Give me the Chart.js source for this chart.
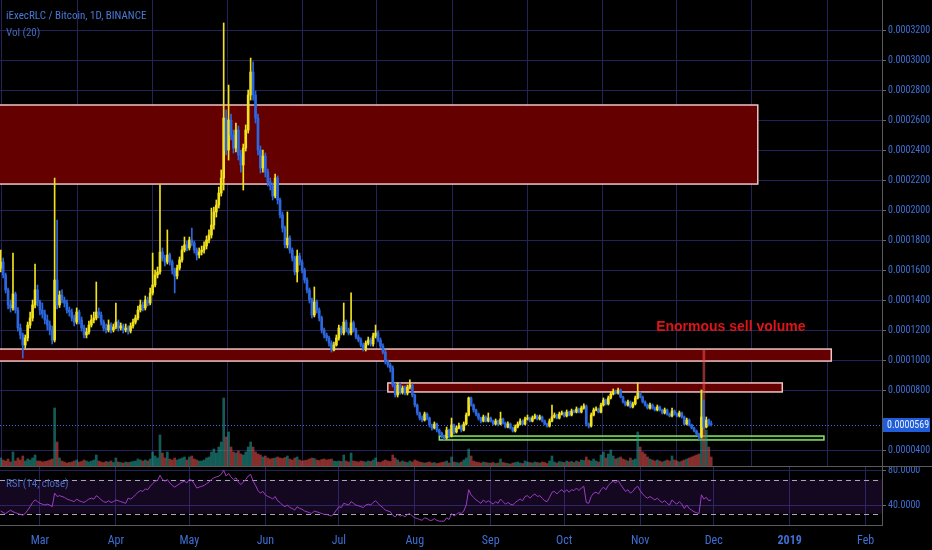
<!DOCTYPE html>
<html>
<head>
<meta charset="utf-8">
<script src="https://cdn.jsdelivr.net/npm/chart.js@4.4.0/dist/chart.umd.min.js"></script>
<style>
  html, body { margin: 0; padding: 0; background: #000; }
  #wrap { position: relative; width: 932px; height: 550px; overflow: hidden; background: #000; }
  #mainChart { position: absolute; left: 0; top: 0; }
  #rsiChart { position: absolute; left: 0; top: 467px; }
</style>
</head>
<body>
<div id="wrap">
  <canvas id="mainChart" width="932" height="467"></canvas>
  <canvas id="rsiChart" width="932" height="83"></canvas>
</div>
<script>
// daily candles, prices in units of 0.0000001 BTC
const startDate = '2018-02-13';
const firstOpen = 1613;

const closes = [
  1653, 1567, 1467, 1367, 1347, 1440, 1333, 1213, 1167, 1100,
  1147, 1233, 1280, 1367, 1467, 1387, 1333, 1307, 1267, 1233,
  1200, 1133, 1533, 1367, 1433, 1400, 1380, 1333, 1320, 1280,
  1253, 1320, 1267, 1213, 1167, 1187, 1233, 1267, 1280, 1320,
  1300, 1253, 1213, 1200, 1233, 1200, 1220, 1253, 1213, 1227,
  1200, 1213, 1193, 1227, 1253, 1280, 1333, 1367, 1347, 1400,
  1380, 1447, 1500, 1567, 1587, 1720, 1680, 1653, 1700, 1653,
  1600, 1560, 1613, 1667, 1733, 1767, 1747, 1800, 1780, 1733,
  1700, 1720, 1733, 1760, 1800, 1833, 1900, 1987, 2033, 2113,
  2213, 2613, 2400, 2600, 2500, 2413, 2533, 2367, 2300, 2413,
  2533, 2767, 2920, 2767, 2613, 2400, 2280, 2360, 2253, 2187,
  2160, 2093, 2213, 2067, 1967, 1880, 1767, 1813, 1733, 1680,
  1587, 1693, 1653, 1600, 1533, 1467, 1400, 1300, 1387, 1333,
  1280, 1200, 1167, 1147, 1113, 1067, 1100, 1147, 1213, 1180,
  1253, 1200, 1180, 1247, 1200, 1153, 1133, 1100, 1073, 1113,
  1133, 1107, 1160, 1180, 1133, 1093, 1053, 987, 967, 947,
  833, 767, 833, 787, 813, 780, 820, 833, 767, 700,
  647, 613, 600, 640, 613, 567, 547, 573, 533, 513,
  493, 480, 533, 493, 567, 520, 547, 560, 533, 573,
  633, 747, 700, 667, 640, 613, 593, 620, 593, 613,
  593, 573, 593, 573, 607, 580, 553, 573, 547, 527,
  553, 573, 593, 573, 607, 613, 593, 613, 627, 607,
  620, 593, 573, 560, 593, 620, 633, 613, 640, 647,
  627, 653, 633, 660, 653, 673, 653, 680, 693, 573,
  560, 633, 667, 673, 653, 700, 733, 707, 747, 773,
  793, 780, 800, 753, 720, 700, 720, 687, 707, 747,
  780, 753, 720, 700, 680, 700, 680, 667, 687, 667,
  647, 667, 640, 627, 660, 640, 627, 647, 620, 573,
  600, 567, 547, 527, 507, 487, 620, 553, 600, 573,
  569
];

const highs = [
  1733, 1680, 1580, 1480, 1400, 1713, 1453, 1350, 1240, 1180,
  1167, 1253, 1320, 1400, 1640, 1500, 1400, 1380, 1333, 1300,
  1260, 1227, 2213, 1933, 1460, 1467, 1420, 1400, 1353, 1340,
  1300, 1347, 1333, 1287, 1233, 1213, 1260, 1300, 1320, 1520,
  1347, 1320, 1267, 1240, 1267, 1247, 1240, 1380, 1267, 1247,
  1240, 1240, 1227, 1247, 1273, 1300, 1360, 1400, 1387, 1427,
  1420, 1480, 1713, 1600, 1620, 2167, 1747, 1700, 1867, 1713,
  1667, 1613, 1633, 1687, 1760, 1820, 1793, 1820, 1880, 1793,
  1747, 1747, 1760, 1787, 1827, 1867, 2013, 2020, 2067, 2153,
  2267, 3247, 2667, 2833, 2640, 2533, 2580, 2560, 2400, 2440,
  2567, 2800, 3013, 2987, 2793, 2640, 2427, 2400, 2380, 2273,
  2213, 2180, 2240, 2227, 2080, 1987, 1893, 1987, 1827, 1747,
  1693, 1733, 1713, 1667, 1613, 1547, 1480, 1413, 1487, 1400,
  1347, 1293, 1213, 1180, 1160, 1127, 1120, 1167, 1233, 1227,
  1380, 1267, 1213, 1447, 1260, 1213, 1167, 1147, 1113, 1127,
  1153, 1147, 1180, 1233, 1193, 1147, 1107, 1067, 1000, 980,
  960, 847, 847, 847, 827, 827, 833, 867, 840, 773,
  707, 653, 627, 653, 647, 620, 573, 587, 580, 540,
  520, 500, 553, 540, 613, 573, 560, 580, 567, 587,
  647, 753, 753, 707, 673, 647, 620, 633, 627, 647,
  620, 600, 607, 600, 653, 613, 587, 587, 580, 553,
  567, 587, 607, 600, 620, 633, 620, 627, 640, 633,
  633, 627, 600, 580, 607, 700, 647, 640, 653, 660,
  653, 667, 660, 673, 667, 687, 680, 693, 707, 700,
  580, 647, 680, 687, 680, 713, 747, 740, 760, 787,
  807, 800, 813, 807, 760, 727, 733, 727, 720, 760,
  847, 787, 760, 727, 707, 713, 707, 687, 700, 693,
  673, 680, 673, 647, 680, 667, 647, 660, 653, 627,
  613, 607, 573, 553, 533, 513, 800, 733, 620, 607,
  593
];

const lows = [
  1587, 1547, 1447, 1340, 1320, 1333, 1313, 1193, 1140, 1013,
  1080, 1127, 1213, 1260, 1347, 1360, 1300, 1280, 1240, 1200,
  1167, 1107, 1120, 1340, 1350, 1380, 1353, 1313, 1293, 1260,
  1227, 1240, 1240, 1193, 1147, 1147, 1173, 1220, 1247, 1267,
  1280, 1233, 1193, 1180, 1187, 1180, 1187, 1207, 1193, 1200,
  1180, 1187, 1173, 1180, 1213, 1240, 1267, 1320, 1327, 1333,
  1360, 1367, 1433, 1487, 1547, 1573, 1660, 1627, 1640, 1633,
  1573, 1447, 1540, 1600, 1653, 1720, 1727, 1733, 1760, 1713,
  1667, 1680, 1700, 1713, 1740, 1780, 1813, 1873, 1953, 2013,
  2093, 2133, 2367, 2333, 2467, 2380, 2387, 2333, 2253, 2133,
  2393, 2513, 2733, 2733, 2580, 2367, 2247, 2253, 2220, 2160,
  2133, 2067, 2080, 2040, 1947, 1853, 1747, 1747, 1713, 1660,
  1567, 1520, 1633, 1580, 1513, 1447, 1380, 1280, 1287, 1313,
  1260, 1180, 1147, 1127, 1093, 1053, 1060, 1093, 1133, 1167,
  1167, 1187, 1167, 1167, 1187, 1140, 1120, 1087, 1060, 1060,
  1100, 1093, 1093, 1147, 1120, 1080, 1040, 973, 953, 920,
  820, 753, 753, 773, 773, 767, 767, 807, 753, 687,
  633, 600, 587, 593, 600, 553, 533, 540, 520, 500,
  480, 467, 473, 480, 487, 507, 513, 540, 520, 527,
  567, 627, 693, 653, 627, 600, 580, 587, 587, 587,
  587, 567, 567, 560, 567, 573, 547, 547, 540, 520,
  520, 547, 567, 567, 567, 600, 587, 587, 607, 600,
  600, 587, 567, 553, 553, 587, 613, 607, 607, 633,
  620, 620, 627, 627, 647, 647, 647, 647, 673, 560,
  547, 553, 627, 660, 647, 647, 693, 700, 700, 740,
  767, 773, 773, 747, 713, 693, 693, 680, 680, 700,
  740, 747, 713, 693, 673, 673, 673, 660, 660, 660,
  640, 640, 633, 620, 620, 633, 620, 620, 613, 567,
  567, 560, 540, 520, 500, 467, 480, 540, 547, 560,
  560
];

// volume, BTC
const volumes = [
  90, 70, 60, 80, 50, 150, 60, 90, 70, 110, 60, 80, 70, 90, 120, 60,
  60, 50, 55, 60, 70, 80, 590, 250, 90, 60, 50, 40, 45, 50, 60, 70, 50, 55, 70, 60, 50, 60, 70, 120, 60, 50, 45, 55, 50, 60, 45,
  90, 50, 45, 40, 50, 45, 50, 55, 60, 80, 70, 60, 70, 60, 80, 150, 110, 90, 320, 140, 90, 150, 80, 70, 90, 70, 80, 90, 100, 70,
  100, 110, 80, 70, 60, 60, 70, 90, 100, 150, 180, 140, 200, 250, 690, 300, 350, 200, 150, 140, 160, 130, 120, 150, 200, 250, 200, 150, 130, 120, 100,
  110, 90, 80, 85, 90, 100, 90, 85, 95, 110, 80, 70, 90, 100, 70, 60, 65, 70, 80, 90, 85, 70, 65, 75, 80, 70, 75, 80, 60, 55,
  60, 55, 120, 60, 50, 140, 60, 55, 50, 60, 55, 50, 60, 55, 70, 90, 50, 45, 60, 70, 60, 55, 120, 90, 70, 50, 60, 50, 45, 60, 50,
  70, 60, 50, 45, 40, 45, 50, 40, 45, 35, 40, 45, 50, 60, 40, 100, 50, 45, 40, 50, 70, 90, 180, 110, 60, 50, 45, 40, 50, 45, 40,
  40, 45, 35, 40, 80, 45, 40, 35, 30, 40, 45, 50, 40, 35, 60, 50, 45, 40, 50, 45, 40, 50, 45, 35, 60, 110, 50, 40, 55, 50,
  45, 60, 50, 55, 45, 60, 50, 70, 65, 100, 70, 60, 80, 60, 50, 120, 150, 90, 130, 170, 110, 80, 90, 100, 80, 70, 60, 90, 70, 80, 350,
  200, 150, 130, 100, 80, 70, 60, 70, 60, 50, 60, 70, 60, 110, 70, 60, 50, 60, 70, 80, 90, 100, 110, 120, 130, 770, 1170, 370, 200, 100
];

// RSI (14, close)
const rsiValues = [
  33, 31, 30, 32, 34, 32, 31, 30, 29, 28,
  30, 34, 38, 43, 46, 44, 42, 41, 40, 41,
  40, 38, 54, 50, 51, 50, 49, 47, 46, 45,
  44, 47, 45, 44, 43, 45, 47, 48, 47, 51,
  49, 46, 44, 43, 45, 43, 44, 46, 45, 44,
  43, 42, 48, 47, 49, 52, 55, 57, 56, 59,
  58, 62, 65, 68, 69, 75, 70, 68, 70, 66,
  63, 61, 63, 65, 67, 68, 66, 70, 69, 65,
  60, 61, 62, 63, 65, 67, 70, 72, 73, 74,
  76, 81, 74, 77, 73, 70, 72, 67, 64, 67,
  70, 74, 76, 68, 63, 57, 54, 56, 52, 50,
  49, 47, 50, 45, 43, 40, 38, 40, 37, 36,
  34, 38, 36, 35, 33, 32, 31, 30, 33, 32,
  31, 30, 29, 29, 28, 27, 30, 34, 38, 37,
  42, 41, 40, 44, 42, 40, 39, 38, 37, 40,
  41, 40, 43, 45, 42, 39, 37, 34, 33, 32,
  28, 26, 29, 27, 28, 26, 29, 30, 27, 25,
  24, 23, 22, 25, 24, 22, 22, 24, 22, 21,
  21, 21, 25, 23, 30, 27, 29, 31, 30, 33,
  40, 58, 52, 49, 46, 44, 42, 46, 43, 45,
  43, 41, 44, 42, 47, 44, 41, 43, 41, 40,
  43, 45, 47, 45, 50, 51, 48, 51, 53, 50,
  51, 48, 45, 44, 49, 55, 56, 53, 56, 58,
  55, 58, 55, 58, 57, 60, 57, 60, 62, 43,
  42, 50, 54, 55, 53, 58, 61, 58, 63, 66,
  68, 66, 69, 64, 60, 56, 58, 54, 56, 60,
  62, 57, 53, 50, 48, 50, 48, 46, 48, 45,
  43, 45, 42, 40, 46, 43, 41, 44, 41, 36,
  40, 36, 34, 32, 31, 30, 52, 47, 49, 45,
  46
];

const monthTicks = ['2018-03-01', '2018-04-01', '2018-05-01', '2018-06-01', '2018-07-01', '2018-08-01',
  '2018-09-01', '2018-10-01', '2018-11-01', '2018-12-01', '2019-01-01', '2019-02-01'];
const monthLabels = ['Mar', 'Apr', 'May', 'Jun', 'Jul', 'Aug', 'Sep', 'Oct', 'Nov', 'Dec', '2019', 'Feb'];
const priceTicks = [400, 800, 1000, 1200, 1400, 1600, 1800, 2000, 2200, 2400, 2600, 2800, 3000, 3200];
const rsiTicks = [40, 80];
const rsiLevels = [30, 70];
const lastPrice = 569;

const zones = [
  { from: '2018-02-01', to: '2018-12-19', top: 2700, bottom: 2173, kind: 'resistance' },
  { from: '2018-02-01', to: '2019-01-18', top: 1073, bottom: 993, kind: 'resistance' },
  { from: '2018-07-21', to: '2018-12-29', top: 847, bottom: 787, kind: 'resistance' },
  { from: '2018-08-11', to: '2019-01-15', top: 493, bottom: 467, kind: 'support' }
];
const note = { date: '2018-12-08', price: 1220, text: 'Enormous sell volume' };

const upColor = '#f2e21e';
const downColor = '#2d67df';
const gridColor = '#23235a';
const textBlue = '#3f6fd4';
const narrowFont = "'Liberation Sans Narrow', 'Arial Narrow', 'Roboto Condensed', sans-serif";

function dayIndex(date) {
  return Math.round((Date.parse(date) - Date.parse(startDate)) / 86400000);
}

const opens = closes.map((c, i) => (i === 0 ? firstOpen : closes[i - 1]));
const isUp = closes.map((c, i) => c >= opens[i]);
const candleColors = isUp.map(u => (u ? upColor : downColor));
const volColors = isUp.map(u => (u ? 'rgba(38,166,154,0.55)' : 'rgba(239,83,80,0.55)'));

const xMin = -0.3;
const xMax = 359.7;

function monthTickBuilder(scale) {
  scale.ticks = monthTicks.map(d => ({ value: dayIndex(d) }));
}

function clip(ctx, a) {
  ctx.beginPath();
  ctx.rect(a.left, a.top, a.right - a.left, a.bottom - a.top);
  ctx.clip();
}

const overlays = {
  id: 'overlays',
  beforeDatasetsDraw(chart) {
    const { ctx, chartArea: a, scales: { x, y } } = chart;
    ctx.save();
    clip(ctx, a);
    zones.forEach(z => {
      const x0 = x.getPixelForValue(dayIndex(z.from));
      const x1 = x.getPixelForValue(dayIndex(z.to));
      const y0 = y.getPixelForValue(z.top);
      const y1 = y.getPixelForValue(z.bottom);
      ctx.fillStyle = z.kind === 'support' ? 'rgba(0,40,0,0.6)' : '#640000';
      ctx.fillRect(x0, y0, x1 - x0, y1 - y0);
      ctx.strokeStyle = z.kind === 'support' ? '#8fe36a' : '#f0c4c4';
      ctx.lineWidth = 1.5;
      ctx.strokeRect(x0, y0, x1 - x0, y1 - y0);
    });
    const py = Math.round(y.getPixelForValue(lastPrice)) + 0.5;
    ctx.setLineDash([1, 2]);
    ctx.strokeStyle = '#3c6fe0';
    ctx.lineWidth = 1;
    ctx.beginPath();
    ctx.moveTo(a.left, py);
    ctx.lineTo(a.right, py);
    ctx.stroke();
    ctx.restore();
  },
  afterDraw(chart) {
    const { ctx, chartArea: a, scales: { x, y } } = chart;
    ctx.save();
    // separator under the main pane
    ctx.strokeStyle = '#5a5a5a';
    ctx.lineWidth = 1;
    ctx.beginPath();
    ctx.moveTo(0, chart.height - 0.5);
    ctx.lineTo(chart.width, chart.height - 0.5);
    ctx.stroke();

    ctx.textBaseline = 'middle';
    ctx.textAlign = 'left';
    ctx.font = '11px ' + narrowFont;
    ctx.fillStyle = '#4a7ad8';
    ctx.fillText('iExecRLC / Bitcoin, 1D, BINANCE', 6, 16.5);
    ctx.fillStyle = '#4169b8';
    ctx.fillText('Vol (20)', 6, 33);

    ctx.textAlign = 'center';
    ctx.font = 'bold 14px "Liberation Sans", Arial, sans-serif';
    ctx.fillStyle = '#e01418';
    ctx.fillText(note.text, x.getPixelForValue(dayIndex(note.date)), y.getPixelForValue(note.price));

    const py = Math.round(y.getPixelForValue(lastPrice));
    ctx.fillStyle = '#1f5ed8';
    ctx.fillRect(a.right + 1, py - 7, 47, 14);
    ctx.fillStyle = '#e8eeff';
    ctx.textAlign = 'left';
    ctx.font = '10px ' + narrowFont;
    ctx.fillText((lastPrice / 1e7).toFixed(7), a.right + 5, py + 0.5);
    ctx.restore();
  }
};

const rsiDecor = {
  id: 'rsiDecor',
  beforeDatasetsDraw(chart) {
    const { ctx, chartArea: a, scales: { y } } = chart;
    const yHi = y.getPixelForValue(rsiLevels[1]);
    const yLo = y.getPixelForValue(rsiLevels[0]);
    ctx.save();
    ctx.fillStyle = 'rgba(104,44,170,0.18)';
    ctx.fillRect(a.left, yHi, a.right - a.left, yLo - yHi);
    ctx.setLineDash([5, 4]);
    ctx.strokeStyle = '#a8a8b0';
    ctx.lineWidth = 1;
    [yHi, yLo].forEach(v => {
      const yy = Math.round(v) + 0.5;
      ctx.beginPath();
      ctx.moveTo(a.left, yy);
      ctx.lineTo(a.right, yy);
      ctx.stroke();
    });
    ctx.restore();
  },
  afterDraw(chart) {
    const { ctx } = chart;
    ctx.save();
    ctx.font = '11px ' + narrowFont;
    ctx.fillStyle = '#4a6cc0';
    ctx.textBaseline = 'middle';
    ctx.fillText('RSI (14, close)', 6, 17);
    ctx.restore();
  }
};

function fixWidth(scale) {
  scale.width = 50;
  scale.paddingTop = 0;
  scale.paddingBottom = 0;
}

new Chart(document.getElementById('mainChart'), {
  type: 'bar',
  data: {
    datasets: [
      {
        label: 'Body',
        data: closes.map((c, i) => ({ x: i, y: [opens[i], c] })),
        backgroundColor: candleColors,
        barThickness: 2,
        minBarLength: 1,
        grouped: false,
        yAxisID: 'y'
      },
      {
        label: 'Wick',
        data: closes.map((c, i) => ({ x: i, y: [lows[i], highs[i]] })),
        backgroundColor: candleColors,
        barThickness: 1,
        grouped: false,
        yAxisID: 'y'
      },
      {
        label: 'Volume',
        data: volumes.map((v, i) => ({ x: i, y: v })),
        backgroundColor: volColors,
        barThickness: 2,
        grouped: false,
        yAxisID: 'vol'
      }
    ]
  },
  options: {
    responsive: false,
    animation: false,
    events: [],
    layout: { padding: 0 },
    plugins: { legend: { display: false }, tooltip: { enabled: false } },
    scales: {
      x: {
        type: 'linear',
        min: xMin,
        max: xMax,
        offset: false,
        afterBuildTicks: monthTickBuilder,
        ticks: { display: false },
        grid: { color: gridColor, drawTicks: false },
        border: { display: false },
        afterFit: s => { s.height = 0; s.paddingLeft = 0; s.paddingRight = 0; }
      },
      y: {
        type: 'linear',
        position: 'right',
        min: 286.7,
        max: 3400,
        afterBuildTicks: s => { s.ticks = priceTicks.map(v => ({ value: v })); },
        ticks: {
          color: textBlue,
          font: { family: narrowFont, size: 10 },
          padding: 2,
          callback: v => (v / 1e7).toFixed(7)
        },
        grid: { color: gridColor, tickColor: '#6a6a6a', tickLength: 4 },
        border: { color: '#5a5a5a' },
        afterFit: fixWidth
      },
      vol: {
        type: 'linear',
        display: false,
        min: 0,
        max: 4670
      }
    }
  },
  plugins: [overlays]
});

new Chart(document.getElementById('rsiChart'), {
  type: 'line',
  data: {
    datasets: [{
      label: 'RSI',
      data: rsiValues.map((v, i) => ({ x: i, y: v })),
      borderColor: '#9c3cc4',
      borderWidth: 1,
      pointRadius: 0,
      tension: 0
    }]
  },
  options: {
    responsive: false,
    animation: false,
    events: [],
    layout: { padding: 0 },
    plugins: { legend: { display: false }, tooltip: { enabled: false } },
    scales: {
      x: {
        type: 'linear',
        min: xMin,
        max: xMax,
        offset: false,
        afterBuildTicks: monthTickBuilder,
        ticks: {
          autoSkip: false,
          maxRotation: 0,
          padding: 9,
          color: textBlue,
          font: ctx => ({ family: narrowFont, size: 12, weight: ctx.index === 10 ? 'bold' : 'normal' }),
          callback: (v, i) => monthLabels[i]
        },
        grid: { color: gridColor, drawTicks: false },
        border: { color: '#5a5a5a' },
        afterFit: s => { s.height = 25; s.paddingLeft = 0; s.paddingRight = 0; }
      },
      y: {
        type: 'linear',
        position: 'right',
        min: 16.5,
        max: 84.7,
        afterBuildTicks: s => { s.ticks = rsiTicks.map(v => ({ value: v })); },
        ticks: {
          color: textBlue,
          font: { family: narrowFont, size: 10 },
          padding: 2,
          callback: v => v.toFixed(4)
        },
        grid: { color: gridColor, tickColor: '#6a6a6a', tickLength: 4 },
        border: { color: '#5a5a5a' },
        afterFit: fixWidth
      }
    }
  },
  plugins: [rsiDecor]
});
</script>
</body>
</html>
